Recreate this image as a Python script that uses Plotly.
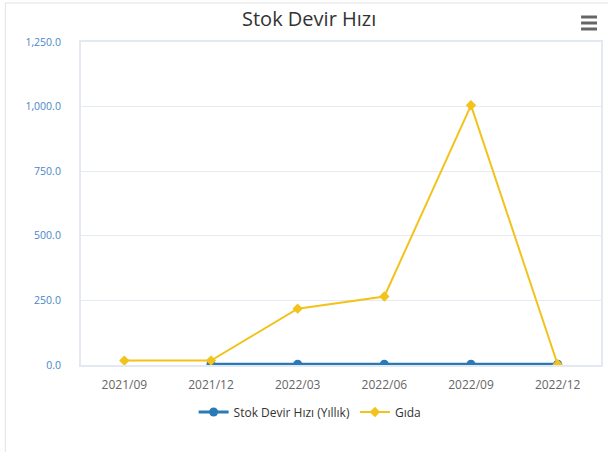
import plotly.graph_objects as go

categories = ["2021/09", "2021/12", "2022/03", "2022/06", "2022/09", "2022/12"]
stok_devir = [None, 3, 3, 3, 3, 3]
gida = [17, 17, 218, 265, 1005, 2]
y_ticks = [0, 250, 500, 750, 1000, 1250]
y_tick_text = ["0.0", "250.0", "500.0", "750.0", "1,000.0", "1,250.0"]

W, H = 608, 452
L, R, T, B = 81, 5, 42, 87
pw, ph = W - L - R, H - T - B

def px_x(x):
    return (x - L) / pw

def px_y(y):
    return (H - B - y) / ph

fig = go.Figure()
fig.add_trace(go.Scatter(
    x=categories, y=stok_devir, name="Stok Devir Hızı (Yıllık)",
    mode="lines+markers",
    line=dict(color="#2a7ab8", width=3),
    marker=dict(symbol="circle", size=9, color="#2a7ab8"),
))
fig.add_trace(go.Scatter(
    x=categories, y=gida, name="Gıda",
    mode="lines+markers",
    line=dict(color="#f2c31b", width=2),
    marker=dict(symbol="diamond", size=8, color="#f2c31b"),
))

menu_bars = [
    dict(type="line", xref="paper", yref="paper",
         x0=px_x(583), x1=px_x(599), y0=px_y(yy), y1=px_y(yy),
         line=dict(color="#666666", width=3))
    for yy in (17, 23, 29)
]

fig.update_layout(
    width=W, height=H,
    margin=dict(l=L, r=R, t=T, b=B),
    paper_bgcolor="white", plot_bgcolor="white",
    font=dict(family="Open Sans, sans-serif"),
    title=dict(text="Stok Devir Hızı", x=px_x(310), xref="paper", xanchor="center",
               y=1 - 19 / H, yanchor="middle",
               font=dict(size=20, color="#333333")),
    showlegend=True,
    legend=dict(orientation="h", x=px_x(311), xanchor="center", y=px_y(412), yanchor="middle",
                itemwidth=30,
                font=dict(size=12, color="#333333"), bgcolor="rgba(0,0,0,0)"),
    xaxis=dict(type="category", range=[-0.5, 5.5], showgrid=False,
               showline=True, linecolor="#e3e9f3", linewidth=2, mirror=True,
               ticks="", tickfont=dict(size=12, color="#666666"),
               ticklabelstandoff=8, fixedrange=True),
    yaxis=dict(range=[0, 1250], tickvals=y_ticks, ticktext=y_tick_text,
               showgrid=True, gridcolor="#e6ebf3", gridwidth=1,
               showline=True, linecolor="#e3e9f3", linewidth=2, mirror=True,
               zeroline=False, ticks="", tickfont=dict(size=10.5, color="#4a86c8"),
               ticklabelstandoff=16, fixedrange=True),
    shapes=[dict(type="rect", xref="paper", yref="paper",
                 x0=px_x(5), x1=px_x(620), y0=px_y(470), y1=px_y(3),
                 line=dict(color="#e2e2e2", width=1), fillcolor="rgba(0,0,0,0)",
                 layer="below")] + menu_bars,
)

fig.write_html("out.html", config={"displayModeBar": False},
               post_script="document.body.style.margin='0';document.body.style.padding='0';")
